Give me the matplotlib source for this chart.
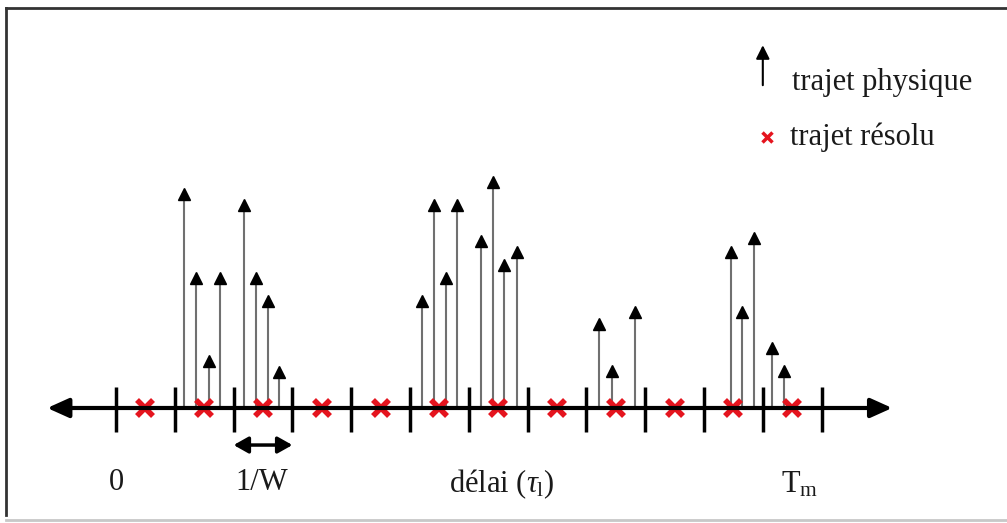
import matplotlib
matplotlib.use("Agg")
import matplotlib.pyplot as plt
import numpy as np

plt.rcParams['font.family'] = ['Liberation Serif', 'DejaVu Serif']
plt.rcParams['mathtext.fontset'] = 'custom'
plt.rcParams['mathtext.rm'] = 'Liberation Serif'
plt.rcParams['mathtext.it'] = 'Liberation Serif:italic'

# grille de résolution 1/W (graduations) et trajets résolus (centres)
graduations = np.arange(0, 13)
trajets_resolus = np.arange(0, 12) + 0.5

# trajets physiques : délai (en unités de 1/W) et amplitude
delais = [1.16, 1.36, 1.58, 1.77, 2.18, 2.38, 2.59, 2.77,
          5.20, 5.41, 5.61, 5.80, 6.21, 6.41, 6.60, 6.82,
          8.21, 8.44, 8.83,
          10.46, 10.65, 10.85, 11.16, 11.36]
amplitudes = [3.74, 2.31, 0.90, 2.31, 3.54, 2.31, 1.92, 0.70,
              1.92, 3.54, 2.31, 3.54, 2.94, 3.93, 2.52, 2.74,
              1.53, 0.73, 1.72,
              2.74, 1.72, 2.98, 1.12, 0.73]

rouge = '#e5141e'
taille = 22
encre = '#1a1a1a'

fig = plt.figure(figsize=(10.07, 5.23), dpi=100)
ax = fig.add_axes([0, 0, 1, 1])
ax.set_xlim(-1.973, 15.153)
ax.set_ylim(-1.956, 6.939)
ax.axis('off')

# cadre
fig.add_artist(plt.Line2D([0.006, 0.006], [0.016, 0.985], color='#333333', lw=2, transform=fig.transFigure))
fig.add_artist(plt.Line2D([0.006, 1.0], [0.985, 0.985], color='#333333', lw=2, transform=fig.transFigure))
fig.add_artist(plt.Line2D([0.006, 1.0], [0.006, 0.006], color='#c8c8c8', lw=2, transform=fig.transFigure))

# axe des délais
ax.annotate('', xy=(-1.17, 0), xytext=(13.2, 0),
            arrowprops=dict(arrowstyle='<|-|>,head_length=1.0,head_width=0.45',
                            color='black', lw=3, shrinkA=0, shrinkB=0, mutation_scale=13))
ax.vlines(graduations, -0.41, 0.36, color='black', lw=2.5)

# trajets physiques
ax.vlines(delais, 0, np.array(amplitudes) - 0.1, color='#707070', lw=1.5)
ax.plot(delais, np.array(amplitudes) - 0.094, linestyle='none', marker='^',
        ms=8, color='black')

# trajets résolus
ax.plot(trajets_resolus, np.zeros_like(trajets_resolus), linestyle='none', marker='x',
        ms=11, mew=4, color=rouge)

# 1/W
ax.annotate('', xy=(2, -0.63), xytext=(3, -0.63),
            arrowprops=dict(arrowstyle='<|-|>,head_length=0.8,head_width=0.45',
                            color='black', lw=2.5, shrinkA=0, shrinkB=0, mutation_scale=11))

ax.text(0, -1.27, '0', fontsize=taille, ha='center', va='center', color=encre)
ax.text(2.48, -1.27, '1/W', fontsize=taille, ha='center', va='center', color=encre)
ax.text(6.56, -1.3, r'délai ($\tau_{\mathrm{l}}$)', fontsize=taille, ha='center', va='center', color=encre)
ax.text(11.63, -1.3, r'T$_{\mathrm{m}}$', fontsize=taille, ha='center', va='center', color=encre)

# légende
ax.annotate('', xy=(11.0, 6.17), xytext=(11.0, 5.49),
            arrowprops=dict(arrowstyle='-|>,head_length=0.9,head_width=0.45',
                            color='black', lw=1.5, shrinkA=0, shrinkB=0, mutation_scale=9))
ax.text(11.5, 5.54, 'trajet physique', fontsize=taille, ha='left', va='center', color=encre)
ax.plot([11.07], [4.61], linestyle='none', marker='x', ms=7, mew=2.5, color=rouge)
ax.text(11.46, 4.61, 'trajet résolu', fontsize=taille, ha='left', va='center', color=encre)

fig.savefig('out.png', dpi=100)
